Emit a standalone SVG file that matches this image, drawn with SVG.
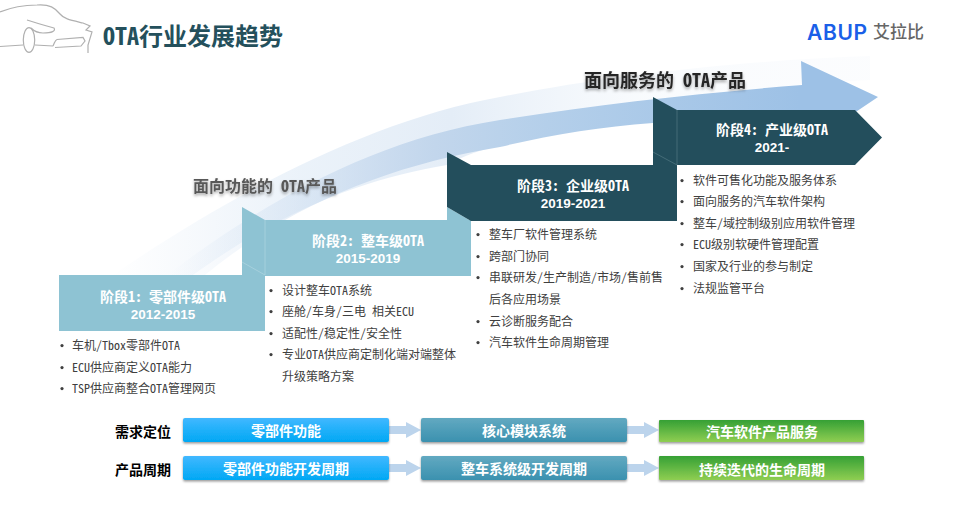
<svg xmlns="http://www.w3.org/2000/svg" width="959" height="517" viewBox="0 0 959 517">
<style>
text{font-family:"Noto Sans CJK SC","Noto Sans",sans-serif;font-feature-settings:"hwid"}
.b{font-size:12px;fill:#404040}
.bu{fill:#404040}
.h{font-size:14px;font-weight:700;fill:#fff;text-anchor:middle}
.yr{font-family:"Liberation Sans",sans-serif;font-feature-settings:normal;font-size:13.500px;font-weight:700;fill:#fff;text-anchor:middle}
.bar{font-size:14px;font-weight:700;fill:#fff;text-anchor:middle}
.lab{font-size:14px;font-weight:700;fill:#000}
.car{fill:none;stroke:#b0b0b0;stroke-width:1.2}
.lt{fill:#8ec3d3}
.dk{fill:#234e5c}
.fold{fill:none;stroke:#b5d8e2;stroke-width:.6}
.fold2{fill:none;stroke:#5a7f8a;stroke-width:.6}
.ar{fill:#bcd4ec}
</style>
<defs>
<linearGradient id="gA" gradientUnits="userSpaceOnUse" x1="110" y1="0" x2="870" y2="0">
<stop offset="0" stop-color="#e6eff8" stop-opacity="0"/><stop offset=".25" stop-color="#e6eff8" stop-opacity=".8"/><stop offset=".45" stop-color="#e4edf7"/><stop offset=".7" stop-color="#f4f8fc" stop-opacity=".6"/><stop offset="1" stop-color="#f8fafd" stop-opacity=".5"/>
</linearGradient>
<linearGradient id="gB" gradientUnits="userSpaceOnUse" x1="170" y1="0" x2="800" y2="0">
<stop offset="0" stop-color="#c5d8ee" stop-opacity="0"/><stop offset=".2" stop-color="#c5d8ee" stop-opacity=".4"/><stop offset=".42" stop-color="#c2d6ec"/><stop offset=".6" stop-color="#b4cfea"/><stop offset="1" stop-color="#9dc1e6"/>
</linearGradient>
<linearGradient id="gBlue" x1="0" y1="0" x2="0" y2="1"><stop offset="0" stop-color="#41b8ff"/><stop offset="1" stop-color="#00a8f4"/></linearGradient>
<linearGradient id="gTeal" x1="0" y1="0" x2="0" y2="1"><stop offset="0" stop-color="#62a9c1"/><stop offset="1" stop-color="#3b91af"/></linearGradient>
<linearGradient id="gGreen" x1="0" y1="0" x2="0" y2="1"><stop offset="0" stop-color="#35a035"/><stop offset="1" stop-color="#8fce52"/></linearGradient>
<linearGradient id="gLine" x1="0" y1="0" x2="1" y2="0"><stop offset="0" stop-color="#bbb"/><stop offset=".7" stop-color="#ccc"/><stop offset="1" stop-color="#eee"/></linearGradient>
<filter id="sh" x="-10%" y="-30%" width="120%" height="170%"><feDropShadow dx="0" dy="2" stdDeviation="1.5" flood-color="#000" flood-opacity=".35"/></filter>
<filter id="bs" x="-5%" y="-20%" width="110%" height="150%"><feDropShadow dx="0" dy="1.5" stdDeviation="1" flood-color="#000" flood-opacity=".4"/></filter>
</defs>
<rect width="959" height="517" fill="#fff"/>

<g id="swoosh">
<path d="M113 275C230 195 370 120 500 97C610 75 750 60 870 56L870 80C760 85 650 100 640 120C560 130 480 145 447 165C370 178 290 205 193 275Z" fill="url(#gA)"/>
<path d="M167 275C260 205 370 140 500 120C600 104 700 93 802 85L801 61L878 97L820 136L653 136L653 123C600 127 550 135 500 147C390 165 290 205 205 275Z" fill="url(#gB)"/>
</g>

<g id="header">
<g id="car">
<path class="car" d="M0 12C12 7 25 5 37 5C50 4 55 8 60 14C64 19 70 20 83 23L90 26L86 30L92 32L88 45L88 53"/>
<path class="car" d="M27 20C33 22 43 25 54 28C56 31 52 33 43 33C38 33 34 31 31 28"/>
<ellipse class="car" cx="29" cy="40" rx="5.7" ry="12.3"/>
<path class="car" d="M0 46.500L23 45M35 45L53 46M53 46C55 42 55 40 57 39.500L83 37.500L85 41L81 46L55 47.500"/>
</g>
<path d="M88 53H392" stroke="url(#gLine)" stroke-width="1.200" fill="none"/>
<text x="103" y="45" font-size="24" font-weight="700" fill="#24505c">OTA行业发展趋势</text>
</g>

<g id="logo">
<text x="807" y="39.500" font-size="21" font-weight="600" fill="#1a5fe8" textLength="60" style="font-family:'Inter','Liberation Sans',sans-serif;font-feature-settings:normal">ABUP</text>
<text x="873" y="38" font-size="17" font-weight="500" fill="#666">艾拉比</text>
</g>

<g id="heading-function"><text x="193" y="192" font-size="16" font-weight="700" fill="#595959" filter="url(#sh)">面向功能的 OTA产品</text></g>
<g id="heading-service"><text x="584" y="87" font-size="18" font-weight="700" fill="#262626" filter="url(#sh)">面向服务的 OTA产品</text></g>

<g id="stage2">
<path class="lt" d="M242 207L265 220H471V276H265V275H242Z"/>
<path class="fold" d="M242 262L265 275M265 220V275"/>
<text class="h" x="368" y="246">阶段2: 整车级OTA</text>
<text class="yr" x="368" y="263">2015-2019</text>
</g>
<path class="lt" d="M447 207L471 221V225H447Z"/>
<g id="stage1">
<path class="lt" d="M59 275H265V331H59Z"/>
<text class="h" x="163" y="302">阶段1: 零部件级OTA</text>
<text class="yr" x="163" y="319">2012-2015</text>
</g>
<g id="stage3">
<path class="dk" d="M447 152L471 165H653V165H677V221H471L447 207Z"/>
<text class="h" x="573" y="191">阶段3: 企业级OTA</text>
<text class="yr" x="573" y="208">2019-2021</text>
</g>
<g id="stage4">
<path class="dk" d="M653 97L677 110H855L882 137.500L855 165H653Z"/>
<path class="fold2" d="M653 152L677 165M677 110V165"/>
<text class="h" x="772" y="135">阶段4: 产业级OTA</text>
<text class="yr" x="772" y="152">2021-</text>
</g>

<g id="list1" transform="translate(0 .6)">
<circle class="bu" cx="62" cy="345" r="1.600"/><text class="b" x="72" y="349">车机/Tbox零部件OTA</text>
<circle class="bu" cx="62" cy="367" r="1.600"/><text class="b" x="72" y="371">ECU供应商定义OTA能力</text>
<circle class="bu" cx="62" cy="388" r="1.600"/><text class="b" x="72" y="392">TSP供应商整合OTA管理网页</text>
</g>
<g id="list2" transform="translate(0 .6)">
<circle class="bu" cx="271" cy="290" r="1.600"/><text class="b" x="282" y="294">设计整车OTA系统</text>
<circle class="bu" cx="271" cy="311" r="1.600"/><text class="b" x="282" y="315">座舱/车身/三电 相关ECU</text>
<circle class="bu" cx="271" cy="333" r="1.600"/><text class="b" x="282" y="337">适配性/稳定性/安全性</text>
<circle class="bu" cx="271" cy="354" r="1.600"/><text class="b" x="282" y="358">专业OTA供应商定制化端对端整体</text>
<text class="b" x="282" y="380">升级策略方案</text>
</g>
<g id="list3" transform="translate(0 .6)">
<circle class="bu" cx="478" cy="234" r="1.600"/><text class="b" x="489" y="238">整车厂软件管理系统</text>
<circle class="bu" cx="478" cy="256" r="1.600"/><text class="b" x="489" y="260">跨部门协同</text>
<circle class="bu" cx="478" cy="277" r="1.600"/><text class="b" x="489" y="281">串联研发/生产制造/市场/售前售</text>
<text class="b" x="489" y="303">后各应用场景</text>
<circle class="bu" cx="478" cy="321" r="1.600"/><text class="b" x="489" y="325">云诊断服务配合</text>
<circle class="bu" cx="478" cy="342" r="1.600"/><text class="b" x="489" y="346">汽车软件生命周期管理</text>
</g>
<g id="list4" transform="translate(0 .6)">
<circle class="bu" cx="682" cy="180" r="1.600"/><text class="b" x="693" y="184">软件可售化功能及服务体系</text>
<circle class="bu" cx="682" cy="201" r="1.600"/><text class="b" x="693" y="205">面向服务的汽车软件架构</text>
<circle class="bu" cx="682" cy="223" r="1.600"/><text class="b" x="693" y="227">整车/域控制级别应用软件管理</text>
<circle class="bu" cx="682" cy="244" r="1.600"/><text class="b" x="693" y="248">ECU级别软硬件管理配置</text>
<circle class="bu" cx="682" cy="266" r="1.600"/><text class="b" x="693" y="270">国家及行业的参与制定</text>
<circle class="bu" cx="682" cy="288" r="1.600"/><text class="b" x="693" y="292">法规监管平台</text>
</g>

<g id="connectors">
<path class="ar" d="M389 426H406V422L421 430L406 438V434H389Z"/>
<path class="ar" d="M627 426H644V422L659 430L644 438V434H627Z"/>
<path class="ar" d="M389 464H406V460L421 468L406 476V472H389Z"/>
<path class="ar" d="M627 464H644V460L659 468L644 476V472H627Z"/>
</g>

<g id="row-label-1"><text class="lab" x="115" y="437">需求定位</text></g>
<g id="row-label-2"><text class="lab" x="115" y="475">产品周期</text></g>

<g id="bar-1-1"><rect x="183" y="418" width="206" height="24" rx="2" fill="url(#gBlue)" filter="url(#bs)"/><text class="bar" x="286" y="436">零部件功能</text></g>
<g id="bar-1-2"><rect x="421" y="418" width="206" height="24" rx="2" fill="url(#gTeal)" filter="url(#bs)"/><text class="bar" x="524" y="436">核心模块系统</text></g>
<g id="bar-1-3"><rect x="659" y="420" width="205" height="22" rx="1" fill="url(#gGreen)" filter="url(#bs)"/><text class="bar" x="762" y="437">汽车软件产品服务</text></g>
<g id="bar-2-1"><rect x="183" y="456" width="206" height="24" rx="2" fill="url(#gBlue)" filter="url(#bs)"/><text class="bar" x="286" y="474">零部件功能开发周期</text></g>
<g id="bar-2-2"><rect x="421" y="456" width="206" height="24" rx="2" fill="url(#gTeal)" filter="url(#bs)"/><text class="bar" x="524" y="474">整车系统级开发周期</text></g>
<g id="bar-2-3"><rect x="659" y="456" width="205" height="24" rx="1" fill="url(#gGreen)" filter="url(#bs)"/><text class="bar" x="762" y="475">持续迭代的生命周期</text></g>
</svg>
